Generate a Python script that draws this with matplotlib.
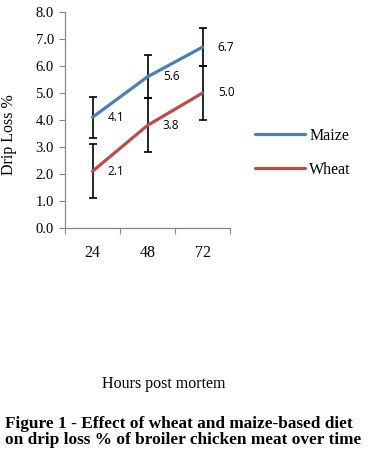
import numpy as np
import matplotlib
matplotlib.use("Agg")
import matplotlib.pyplot as plt

# データ
hours = ["24", "48", "72"]
maize = [4.1, 5.6, 6.7]
maize_err = [0.75, 0.8, 0.7]
wheat = [2.1, 3.8, 5.0]
wheat_err = [1.0, 1.0, 1.0]

serif = "Liberation Serif"
blue = "#4A7EBB"
red = "#BE4B48"

fig = plt.figure(figsize=(3.81, 4.70), dpi=100)
ax = fig.add_axes([65/381, 1-228/470, 165/381, 216/470])

x = np.arange(len(hours))
ax.errorbar(x, maize, yerr=maize_err, fmt="none", ecolor="black", elinewidth=1.2, capsize=3, capthick=1.2, zorder=2)
ax.errorbar(x, wheat, yerr=wheat_err, fmt="none", ecolor="black", elinewidth=1.2, capsize=3, capthick=1.2, zorder=2)
ax.plot(x, maize, color=blue, linewidth=2.3, label="Maize", zorder=3, solid_capstyle="round")
ax.plot(x, wheat, color=red, linewidth=2.3, label="Wheat", zorder=3, solid_capstyle="round")

for xi, v in zip(x, maize):
    ax.annotate("%.1f" % v, (xi, v), xytext=(11, 0), textcoords="offset points",
                va="center", ha="left", fontsize=8.5, family="Open Sans")
for xi, v in zip(x, wheat):
    ax.annotate("%.1f" % v, (xi, v), xytext=(11, 0), textcoords="offset points",
                va="center", ha="left", fontsize=8.5, family="Open Sans")

ax.set_xlim(-0.5, 2.5)
ax.set_ylim(0, 8)
ax.set_yticks(np.arange(0, 8.1, 1.0))
ax.set_yticklabels(["%.1f" % v for v in np.arange(0, 8.1, 1.0)], family=serif, fontsize=10.5)
ax.set_xticks([-0.5, 0.5, 1.5, 2.5])
ax.set_xticklabels([])
ax.set_xticks(x, minor=True)
ax.set_xticklabels(hours, minor=True, family=serif, fontsize=11.5)
ax.tick_params(axis="x", which="minor", length=0, pad=12)
ax.tick_params(axis="x", which="major", length=4, color="#888888", direction="out")
ax.tick_params(axis="y", length=4, color="#888888", direction="out", pad=4)

for s in ["top", "right"]:
    ax.spines[s].set_visible(False)
for s in ["left", "bottom"]:
    ax.spines[s].set_color("#888888")
    ax.spines[s].set_linewidth(0.9)

fig.legend(loc="upper left", bbox_to_anchor=(255/381, 1-128/470), frameon=False,
           prop={"family": serif, "size": 11.5}, handlelength=3.1, handletextpad=0.3,
           labelspacing=1.1, borderaxespad=0, borderpad=0)

fig.text(9/381, 1-135/470, "Drip Loss %", rotation=90, ha="center", va="center", family=serif, fontsize=11.5)
fig.text(164/381, 1-384/470, "Hours post mortem", ha="center", va="center", family=serif, fontsize=11.5)
fig.text(5/381, 1-416/470, "Figure 1 - Effect of wheat and maize-based diet\non drip loss % of broiler chicken meat over time",
         ha="left", va="top", family=serif, fontweight="bold", fontsize=12.4, linespacing=0.98)

fig.savefig("out.png", dpi=100)
